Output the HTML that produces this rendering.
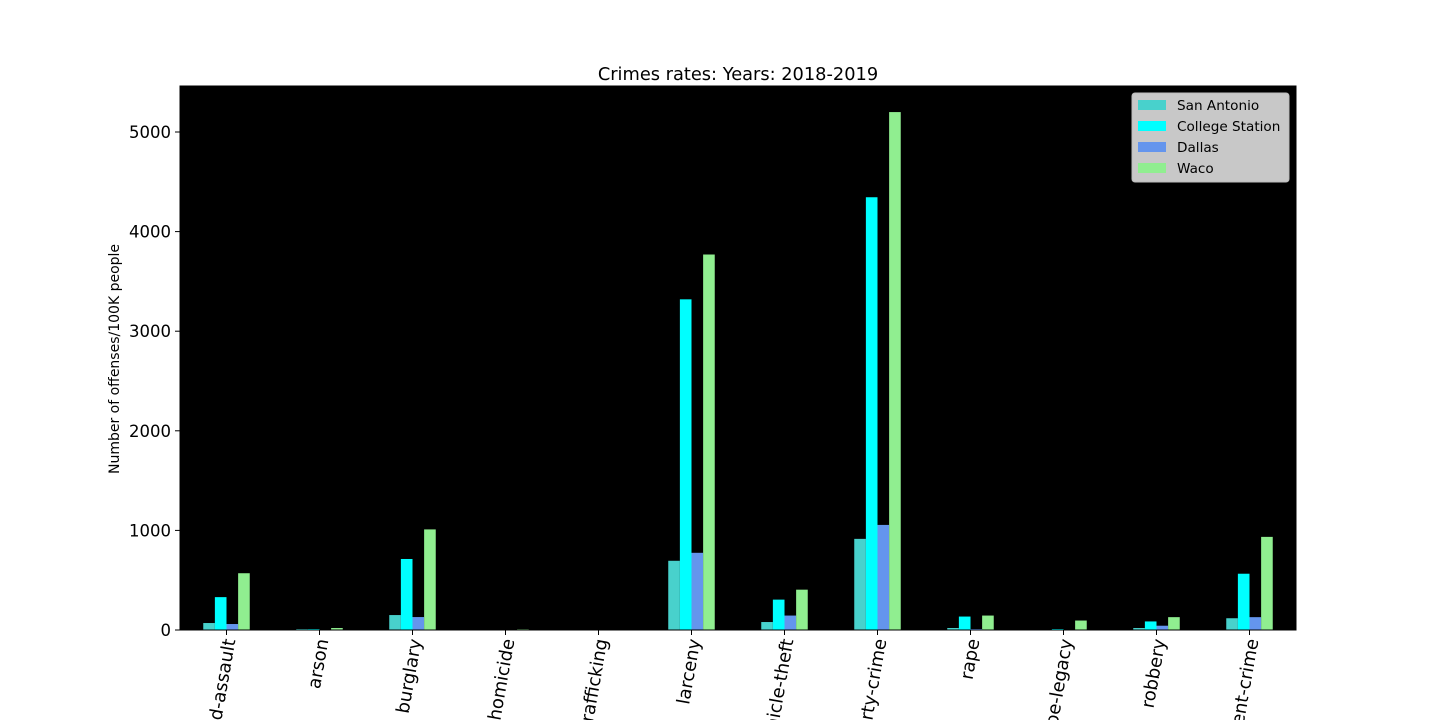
<!DOCTYPE html>
<html><head><meta charset="utf-8"><style>
html,body{margin:0;padding:0;background:#fff;overflow:hidden;width:1440px;height:720px;}
svg{display:block;font-family:"DejaVu Sans","Liberation Sans",sans-serif;}
</style></head><body>
<svg id="chart" width="1440" height="720" viewBox="0 0 1440 720">
<rect x="180" y="86" width="1116" height="544" fill="#000"/>
<g id="bars"></g>
<g id="yticks"></g>
<g id="xticks"></g>
<text x="738" y="80" text-anchor="middle" font-size="17.8" fill="#000">Crimes rates: Years: 2018-2019</text>
<text transform="translate(119,359) rotate(-90)" text-anchor="middle" font-size="14" fill="#000">Number of offenses/100K people</text>
<g id="legend">
<rect x="1132" y="93" width="157" height="89" rx="3" fill="#c8c8c8" stroke="#bbb"/>
</g>
</svg>
<script>
const categories = ["aggravated-assault","arson","burglary","homicide","human-trafficking","larceny","motor-vehicle-theft","property-crime","rape","rape-legacy","robbery","violent-crime"];
const seriesNames = ["San Antonio","College Station","Dallas","Waco"];
const sanAntonio = [70,10,150,0,0,695,80,915,20,0,20,118];
const collegeStation = [330,10,713,0,0,3320,305,4345,135,10,86,565];
const dallas = [60,0,130,0,0,775,145,1055,10,0,43,129];
const waco = [570,20,1010,8,0,3770,405,5200,145,95,129,935];
const yTicks = [0,1000,2000,3000,4000,5000];
const colors = ["#48d1cc","#00ffff","#6495ed","#90ee90"];
const series = [sanAntonio, collegeStation, dallas, waco];

const NS = "http://www.w3.org/2000/svg";
const X0 = 180, X1 = 1296, Y0 = 630, YTOP = 86;
const step = (X1 - X0) / categories.length;
const barW = step * 0.125;
function xCenter(i){ return X0 + step * (i + 0.5); }
function yScale(v){ return Y0 - v * (Y0 - 132) / 5000; }
function mk(tag, attrs, parent){ const e = document.createElementNS(NS, tag); for (const k in attrs) e.setAttribute(k, attrs[k]); parent.appendChild(e); return e; }

const gb = document.getElementById("bars");
series.forEach((vals, s) => {
  vals.forEach((v, i) => {
    const x = xCenter(i) - 2 * barW + s * barW;
    const y = yScale(v);
    const r = mk("rect", {x: x, y: y, width: barW, height: Y0 - y, fill: colors[s]}, gb);
    
    
  });
});

const gy = document.getElementById("yticks");
yTicks.forEach(t => {
  const y = yScale(t);
  const l = mk("line", {x1: X0 - 5, x2: X0, y1: y, y2: y, stroke: "#000"}, gy);
  
  
  const tx = mk("text", {x: X0 - 9, y: y + 6, "text-anchor": "end", "font-size": "16.5", fill: "#000"}, gy);
  tx.textContent = t;
  
  
});

const gx = document.getElementById("xticks");
categories.forEach((c, i) => {
  const x = xCenter(i);
  const l = mk("line", {x1: x, x2: x, y1: Y0, y2: Y0 + 5, stroke: "#000"}, gx);
  
  
  const tx = mk("text", {transform: "translate(" + (x + 9) + "," + (Y0 + 10) + ") rotate(-80)", "text-anchor": "end", "font-size": "18", fill: "#000"}, gx);
  tx.textContent = c;
  
  
});

const fr = mk("rect", {x: X0, y: YTOP, width: X1 - X0, height: Y0 - YTOP, fill: "none", stroke: "#000", "stroke-width": 1}, document.getElementById("chart"));



const gl = document.getElementById("legend");
seriesNames.forEach((n, s) => {
  const y = 105 + s * 21;
  const r = mk("rect", {x: 1138, y: y - 5, width: 28, height: 10, fill: colors[s]}, gl);
  
  
  const t = mk("text", {x: 1177, y: y + 5, "font-size": "13.6", fill: "#000"}, gl);
  t.textContent = n;
  
  
});
</script>
</body></html>
